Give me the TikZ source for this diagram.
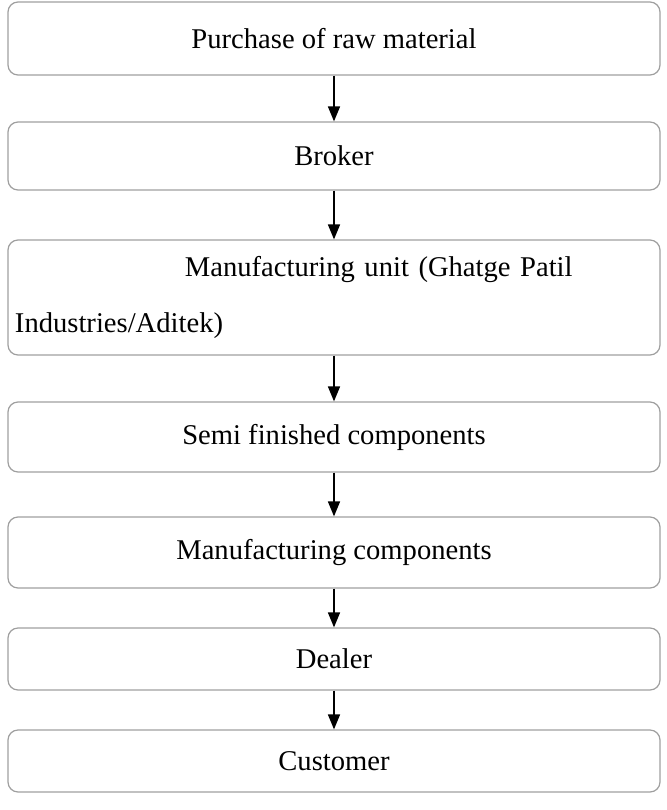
\documentclass[tikz,border=0pt]{standalone}
\usepackage{fontspec}
\setmainfont{Liberation Serif}
\usetikzlibrary{arrows.meta}

\tikzset{
  stage/.style={draw=gray!75, line width=0.6pt, rounded corners=5pt, inner sep=0pt,
    minimum width=326pt, font=\fontsize{14.3}{17}\selectfont},
  flow/.style={line width=0.8pt, -{Triangle[length=7.5pt,width=6pt]}}
}

\begin{document}
\begin{tikzpicture}[x=0.5pt,y=-0.5pt]
\useasboundingbox (0,0) rectangle (666,810);
\node[stage, minimum height=36.5pt] (raw) at (334,38.5) {Purchase of raw material};
\node[stage, minimum height=34pt] (broker) at (334,156) {Broker};
\node[stage, minimum height=57.5pt, text width=319pt, align=left] (unit) at (334,297.5)
  {\hspace*{85pt}Manufacturing unit (Ghatge Patil\\[11pt]Industries/Aditek)};
\node[stage, minimum height=35pt] (semi) at (334,437) {Semi finished components};
\node[stage, minimum height=35.5pt] (comp) at (334,552.5) {Manufacturing components};
\node[stage, minimum height=31pt] (dealer) at (334,659) {Dealer};
\node[stage, minimum height=31pt] (cust) at (334,761) {Customer};

\draw[flow] (raw) -- (broker);
\draw[flow] (broker) -- (unit);
\draw[flow] (unit) -- (semi);
\draw[flow] (semi) -- (comp);
\draw[flow] (comp) -- (dealer);
\draw[flow] (dealer) -- (cust);
\end{tikzpicture}
\end{document}
